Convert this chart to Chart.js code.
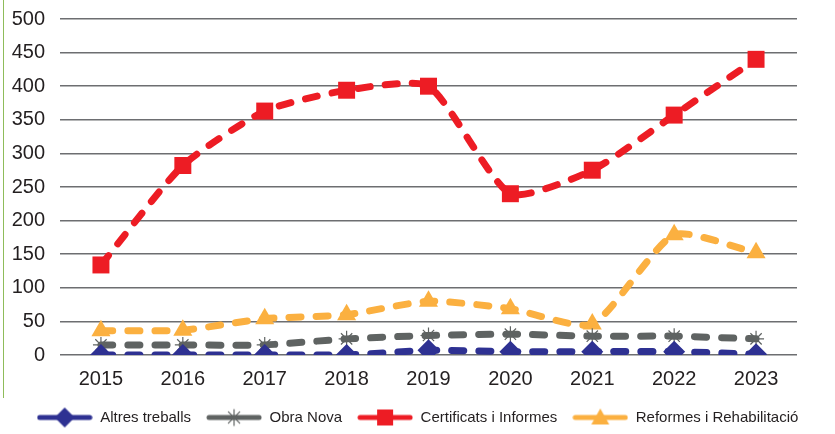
<!DOCTYPE html>
<html>
<head>
<meta charset="utf-8">
<script src="https://cdn.jsdelivr.net/npm/chart.js@4"></script>
<style>
  body { margin: 0; background: #fff; }
  #wrap { position: relative; width: 835px; height: 434px; }
  #edge { position: absolute; left: 3px; top: 0; width: 1px; height: 398px; background: #8fbc5a; }
</style>
</head>
<body>
<div id="wrap">
  <div id="edge"></div>
  <canvas id="line-chart" width="835" height="434"></canvas>
</div>
<script>
const years = ['2015', '2016', '2017', '2018', '2019', '2020', '2021', '2022', '2023'];
const altresTreballs = [0, 0, 0, 0, 7, 5, 5, 5, 1];
const obraNova = [15, 15, 15, 24, 29, 31, 28, 28, 24];
const certificats = [134, 282, 363, 394, 400, 240, 275, 357, 440];
const reformes = [36, 37, 54, 60, 80, 69, 46, 179, 152];
const yTicks = [0, 50, 100, 150, 200, 250, 300, 350, 400, 450, 500];

const FONT = "'Liberation Sans Narrow', 'Liberation Sans', sans-serif";

// small picture of line + marker for the legend
function legendIcon(color, style) {
    const c = document.createElement('canvas');
    c.width = 56; c.height = 22;
    const ctx = c.getContext('2d');
    const mid = 28;
    ctx.strokeStyle = color;
    ctx.lineWidth = 5;
    ctx.lineCap = 'round';
    ctx.beginPath(); ctx.moveTo(3, 11); ctx.lineTo(53, 11); ctx.stroke();
    ctx.fillStyle = color;
    ctx.beginPath();
    if (style === 'diamond') {
        ctx.moveTo(mid, 1); ctx.lineTo(mid + 10, 11); ctx.lineTo(mid, 21); ctx.lineTo(mid - 10, 11); ctx.closePath(); ctx.fill();
    } else if (style === 'square') {
        ctx.rect(mid - 8, 3, 16, 16); ctx.fill();
    } else if (style === 'triangle') {
        ctx.moveTo(mid, 2); ctx.lineTo(mid + 9, 18); ctx.lineTo(mid - 9, 18); ctx.closePath(); ctx.fill();
    } else {
        ctx.lineWidth = 1.2;
        for (let a = 0; a < 4; a++) {
            const ang = a * Math.PI / 4;
            ctx.moveTo(mid - 8 * Math.cos(ang), 11 - 8 * Math.sin(ang));
            ctx.lineTo(mid + 8 * Math.cos(ang), 11 + 8 * Math.sin(ang));
        }
        ctx.stroke();
    }
    return c;
}

const series = [
    {label: 'Altres treballs', data: altresTreballs, color: '#2e3192', point: 'rectRot', radius: 11, icon: 'diamond'},
    {label: 'Obra Nova', data: obraNova, color: '#5f6362', point: 'star', radius: 8, icon: 'star'},
    {label: 'Certificats i Informes', data: certificats, color: '#ed1c24', point: 'rect', radius: 12, icon: 'square'},
    {label: 'Reformes i Rehabilitació', data: reformes, color: '#fbb040', point: 'triangle', radius: 11, icon: 'triangle'}
];

new Chart(document.getElementById('line-chart'), {
    type: 'line',
    data: {
        labels: years,
        datasets: series.map(s => ({
            label: s.label,
            data: s.data,
            borderColor: s.color,
            backgroundColor: s.color,
            pointBackgroundColor: s.color,
            pointBorderColor: s.color,
            pointBorderWidth: s.point === 'star' ? 1.2 : 0,
            pointStyle: s.point,
            pointRadius: s.radius,
            borderWidth: 7,
            borderDash: [12, 15],
            borderCapStyle: 'round',
            tension: 0.2,
            fill: false
        }))
    },
    options: {
        responsive: false,
        animation: false,
        layout: {autoPadding: false, padding: {top: 19, right: 0, left: 0, bottom: -1}},
        scales: {
            x: {
                offset: true,
                grid: {display: false},
                border: {display: false},
                ticks: {color: '#231f20', font: {family: FONT, size: 20}, padding: 4}
            },
            y: {
                min: 0,
                max: 500,
                afterFit: scale => {
                    scale.width = 60;
                    scale.paddingTop = 0;
                    scale.paddingBottom = 0;
                },
                afterBuildTicks: scale => { scale.ticks = yTicks.map(v => ({value: v})); },
                grid: {color: '#6d6e71', lineWidth: 1.5, drawTicks: false},
                border: {display: false},
                ticks: {color: '#231f20', font: {family: FONT, size: 20}, padding: 15, autoSkip: false}
            },
            // empty right-hand strip so the plot stops short of the edge
            yRight: {
                position: 'right',
                min: 0,
                max: 500,
                afterFit: scale => {
                    scale.width = 38;
                    scale.paddingTop = 0;
                    scale.paddingBottom = 0;
                },
                grid: {display: false, drawTicks: false},
                border: {display: false},
                ticks: {display: false}
            }
        },
        plugins: {
            tooltip: {enabled: false},
            legend: {
                position: 'bottom',
                labels: {
                    usePointStyle: true,
                    pointStyleWidth: 56,
                    padding: 15,
                    color: '#231f20',
                    font: {family: FONT, size: 15},
                    generateLabels: chart => Chart.defaults.plugins.legend.labels.generateLabels(chart).map((item, i) => {
                        item.pointStyle = legendIcon(series[i].color, series[i].icon);
                        return item;
                    })
                }
            }
        }
    }
});
</script>
</body>
</html>
